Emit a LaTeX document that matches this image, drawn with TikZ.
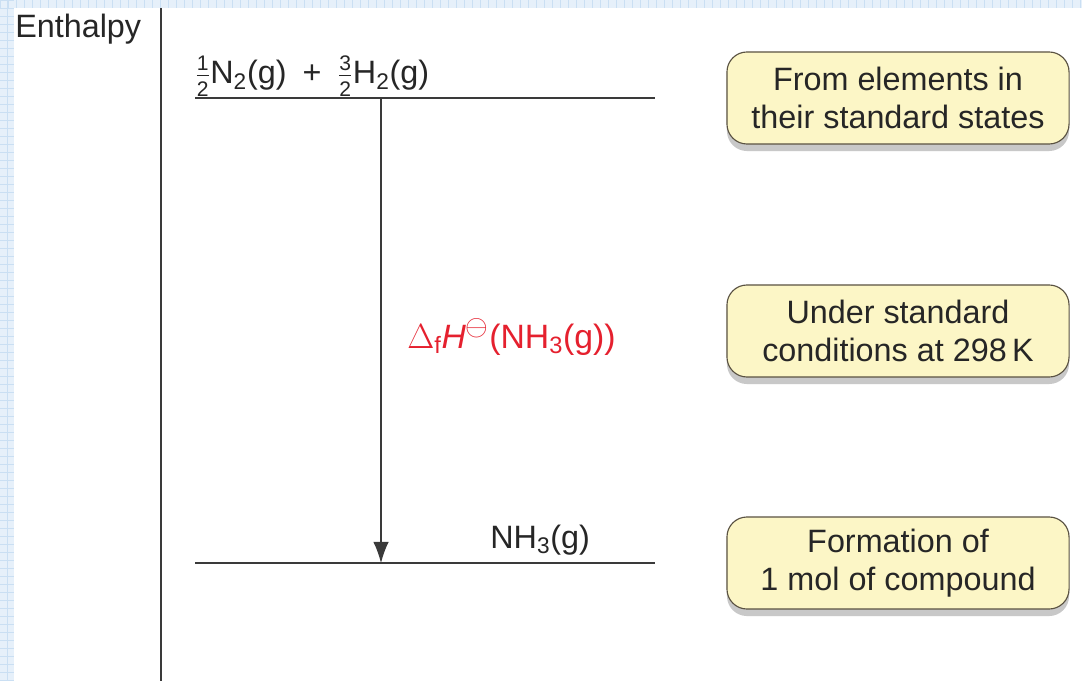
\documentclass[tikz,border=0pt]{standalone}
\usepackage{fontspec}
\setmainfont{Liberation Sans}
\usetikzlibrary{arrows.meta, shadows, positioning}
\definecolor{gridblue}{HTML}{E6F0FA}
\definecolor{gridline}{HTML}{CADFF3}
\definecolor{notefill}{HTML}{FCF6C6}
\definecolor{noteedge}{HTML}{5A5242}
\definecolor{axisgray}{HTML}{3A3A3A}
\definecolor{deltared}{HTML}{E5202E}
\newcommand{\smallfrac}[2]{\ensuremath{\frac{\mbox{\fontsize{15}{15}\selectfont #1}}{\mbox{\fontsize{15}{15}\selectfont #2}}}}

\begin{document}
\begin{tikzpicture}[
        x=0.025cm, y=-0.025cm,
        txt/.style={font=\fontsize{23}{27}\selectfont, text=black!85, inner sep=0pt},
        level/.style={draw=axisgray, line width=1.3pt},
        axis/.style={draw=axisgray, line width=1.2pt},
        note/.style={rectangle, draw=noteedge, fill=notefill, line width=0.8pt, rounded corners=0.5cm, align=center, text centered, minimum width=8.55cm, minimum height=2.3cm, font=\fontsize{23}{27}\selectfont, text=black!85, drop shadow={shadow xshift=0pt, shadow yshift=-5pt, opacity=0.3, fill=black!70}}
    ]
        \useasboundingbox (0,0) rectangle (1082,681);
        % Background
        \fill[gridblue] (0,0) rectangle (1082,681);
        \foreach \gx in {0,8,...,1080} \draw[gridline, very thin] (\gx,0) -- (\gx,8);
        \foreach \gy in {0,8,...,680} \draw[gridline, very thin] (0,\gy) -- (14,\gy);
        \draw[gridline, very thin] (7,0) -- (7,681);
        \fill[white] (14,8) rectangle (1082,681);

        % Axis
        \coordinate (axtop) at (161,8);
        \coordinate (axbot) at (161,681);
        \draw[axis] (axtop) -- (axbot);
        \node (ylab) [txt, anchor=base west] at (15,38) {Enthalpy};

        % Levels
        \coordinate (reacL) at (195,98);
        \coordinate (reacR) at (655,98);
        \coordinate (prodL) at (195,563);
        \coordinate (prodR) at (655,563);
        \draw[level] (reacL) -- (reacR);
        \draw[level] (prodL) -- (prodR);
        \node (reac) [txt, anchor=base west] at (195,84) {\smallfrac{1}{2}N\textsubscript{2}(g)\enspace+\enspace\smallfrac{3}{2}H\textsubscript{2}(g)};
        \node (prod) [txt, anchor=base west] at (490,548) {NH\textsubscript{3}(g)};

        % Arrow
        \coordinate (arrtop) at (381,98);
        \coordinate (arrbot) at (381,563);
        \draw[-{Latex[length=15pt, width=11pt]}, axisgray, line width=0.8pt] (arrtop) -- (arrbot);
        \node (dh) [txt, font=\fontsize{24}{28}\selectfont, text=deltared, anchor=base west] at (407,348) {$\Delta$\textsubscript{f}\textit{H}\textsuperscript{\fontsize{22}{22}\selectfont$\ominus$}(NH\textsubscript{3}(g))};

        % Notes
        \node (n1) [note] at (898,98) {From elements in\\their standard states};
        \node (n2) [note] at (898,331) {Under standard\\conditions at 298\,K};
        \node (n3) [note] at (898,563) {Formation of\\1 mol of compound};
    \end{tikzpicture}
\end{document}
